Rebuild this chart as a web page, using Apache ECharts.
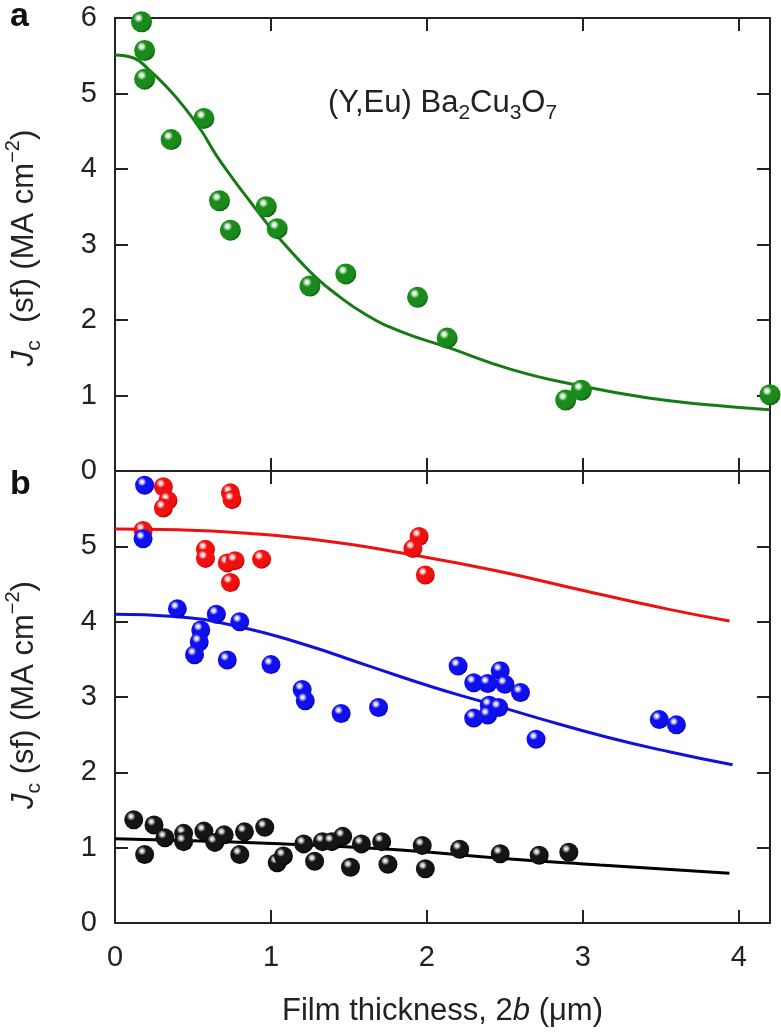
<!DOCTYPE html>
<html>
<head>
<meta charset="utf-8">
<title>Jc vs film thickness</title>
<script src="https://cdn.jsdelivr.net/npm/echarts@6/dist/echarts.min.js"></script>
<style>
  html, body { margin: 0; padding: 0; background: #fff; }
  #chart { width: 781px; height: 1032px; }
</style>
</head>
<body>
<div id="chart"></div>
<script>
// ---- data: [film thickness 2b (um), Jc (MA cm^-2)] ----
const xTicks = [0, 1, 2, 3, 4];

// panel a, (Y,Eu)Ba2Cu3O7
const ptsA = [
  [0.17, 5.95], [0.19, 5.57], [0.19, 5.19], [0.36, 4.39], [0.57, 4.67],
  [0.67, 3.58], [0.74, 3.19], [0.97, 3.50], [1.04, 3.21], [1.25, 2.45],
  [1.48, 2.61], [1.94, 2.30], [2.13, 1.76], [2.89, 0.94], [2.99, 1.07],
  [4.20, 1.01]
];
const fitA = [
  [0, 5.51], [0.12, 5.47], [0.22, 5.31], [0.33, 5.09], [0.44, 4.83],
  [0.55, 4.52], [0.65, 4.18], [0.76, 3.86], [0.87, 3.56], [0.97, 3.29],
  [1.08, 3.02], [1.19, 2.77], [1.29, 2.56], [1.40, 2.37], [1.61, 2.07],
  [1.83, 1.85], [2.13, 1.64], [2.55, 1.34], [2.98, 1.13], [3.41, 0.97],
  [3.84, 0.87], [4.20, 0.81]
];

// panel b
const ptsRed = [
  [0.31, 5.79], [0.34, 5.61], [0.31, 5.51], [0.18, 5.21], [0.74, 5.71],
  [0.75, 5.62], [0.58, 4.96], [0.58, 4.84], [0.72, 4.78], [0.77, 4.81],
  [0.74, 4.52], [0.94, 4.83], [1.95, 5.13], [1.91, 4.97], [1.99, 4.62]
];
const fitRed = [
  [0, 5.23], [0.40, 5.22], [0.80, 5.18], [1.35, 5.07], [1.90, 4.89],
  [2.46, 4.67], [3.01, 4.41], [3.56, 4.16], [3.94, 4.01]
];
const ptsBlue = [
  [0.19, 5.81], [0.18, 5.10], [0.40, 4.17], [0.65, 4.10], [0.80, 4.00],
  [0.55, 3.89], [0.54, 3.73], [0.51, 3.56], [0.72, 3.49], [1.00, 3.43],
  [1.20, 3.10], [1.22, 2.95], [1.45, 2.78], [1.69, 2.86], [2.20, 3.41],
  [2.30, 3.19], [2.39, 3.18], [2.47, 3.35], [2.50, 3.17], [2.60, 3.06],
  [2.40, 2.89], [2.46, 2.86], [2.30, 2.72], [2.39, 2.76], [2.70, 2.44],
  [3.49, 2.70], [3.60, 2.63]
];
const fitBlue = [
  [0, 4.10], [0.38, 4.07], [0.80, 3.93], [1.21, 3.70], [1.63, 3.41],
  [2.04, 3.13], [2.37, 2.93], [2.73, 2.71], [3.15, 2.47], [3.56, 2.27],
  [3.96, 2.10]
];
const ptsBlack = [
  [0.12, 1.37], [0.19, 0.91], [0.25, 1.30], [0.32, 1.13], [0.44, 1.19],
  [0.44, 1.08], [0.57, 1.22], [0.64, 1.07], [0.70, 1.17], [0.80, 0.91],
  [0.83, 1.21], [0.96, 1.27], [1.04, 0.80], [1.08, 0.89], [1.21, 1.05],
  [1.28, 0.82], [1.33, 1.08], [1.39, 1.08], [1.46, 1.15], [1.51, 0.74],
  [1.58, 1.05], [1.71, 1.08], [1.75, 0.78], [1.97, 1.03], [1.99, 0.72],
  [2.21, 0.98], [2.47, 0.92], [2.72, 0.90], [2.91, 0.94]
];
const fitBlack = [
  [0, 1.12], [0.55, 1.09], [1.19, 1.04], [1.83, 0.97], [2.47, 0.86],
  [3.11, 0.77], [3.94, 0.66]
];

const FONT = 'Liberation Sans, Arial, Helvetica, sans-serif';
const INK = '#222';

// 3D-looking ball, bright spot upper-left
function ball(light, mid, dark) {
  return {
    type: 'radial', x: 0.36, y: 0.32, r: 0.72,
    colorStops: [
      { offset: 0, color: '#ffffff' },
      { offset: 0.12, color: light },
      { offset: 0.32, color: mid },
      { offset: 0.8, color: mid },
      { offset: 1, color: dark }
    ]
  };
}

function xAx(grid, pos, labels) {
  return {
    type: 'value', gridIndex: grid, position: pos, min: 0, max: 4.2, interval: 1,
    axisLine: { show: true, onZero: false, lineStyle: { color: INK, width: 2 } },
    axisTick: { show: true, inside: true, length: 13, customValues: xTicks, lineStyle: { color: INK, width: 2 } },
    axisLabel: { show: labels, margin: 20, fontSize: 29, color: INK, fontFamily: FONT, customValues: xTicks },
    splitLine: { show: false }
  };
}
function yAx(grid, pos, labels, hideTop) {
  return {
    type: 'value', gridIndex: grid, position: pos, min: 0, max: 6, interval: 1,
    axisLine: { show: true, onZero: false, lineStyle: { color: INK, width: 2 } },
    axisTick: { show: true, inside: true, length: 13, lineStyle: { color: INK, width: 2 } },
    axisLabel: {
      show: labels, margin: 18, fontSize: 29, color: INK, fontFamily: FONT,
      formatter: v => (hideTop && v === 6 ? '' : String(v))
    },
    splitLine: { show: false }
  };
}

function scatter(name, x, y, data, color, size) {
  return {
    name: name, type: 'scatter', xAxisIndex: x, yAxisIndex: y, data: data,
    symbol: 'circle', symbolSize: size, z: 3,
    itemStyle: { color: color, opacity: 1 }
  };
}
function curve(name, x, y, data, color) {
  return {
    name: name, type: 'line', xAxisIndex: x, yAxisIndex: y, data: data,
    smooth: 0.5, showSymbol: false, z: 2,
    lineStyle: { color: color, width: 3 }
  };
}

const titleRich = {
  j: { fontSize: 31, fontStyle: 'italic', fontFamily: FONT, lineHeight: 42, fill: INK },
  c: { fontSize: 21, fontFamily: FONT, lineHeight: 20, verticalAlign: 'bottom', fill: INK },
  t: { fontSize: 31, fontFamily: FONT, lineHeight: 42, fill: INK },
  s: { fontSize: 20, fontFamily: FONT, lineHeight: 20, verticalAlign: 'top', fill: INK }
};

const chart = echarts.init(document.getElementById('chart'), null, { renderer: 'canvas' });
chart.setOption({
  backgroundColor: '#fff',
  animation: false,
  grid: [
    { left: 115, top: 18, width: 655, height: 453 },
    { left: 115, top: 471, width: 655, height: 452 }
  ],
  xAxis: [
    xAx(0, 'bottom', false),
    xAx(0, 'top', false),
    Object.assign(xAx(1, 'bottom', true), {
      name: 'Film thickness, 2{i|b} (μm)',
      nameLocation: 'middle',
      nameGap: 73,
      nameTextStyle: {
        fontSize: 31, color: INK, fontFamily: FONT,
        rich: { i: { fontSize: 31, fontStyle: 'italic', fontFamily: FONT, color: INK } }
      }
    }),
    xAx(1, 'top', false)
  ],
  yAxis: [
    yAx(0, 'left', true, false),
    yAx(0, 'right', false, false),
    yAx(1, 'left', true, true),
    yAx(1, 'right', false, false)
  ],
  series: [
    curve('fit a', 0, 0, fitA, '#167a16'),
    scatter('(Y,Eu)Ba2Cu3O7', 0, 0, ptsA, ball('#d6f0d6', '#1a8a1a', '#0b5c0b'), 21),
    curve('fit red', 2, 2, fitRed, '#ee1111'),
    curve('fit blue', 2, 2, fitBlue, '#1111dd'),
    curve('fit black', 2, 2, fitBlack, '#000'),
    scatter('red', 2, 2, ptsRed, ball('#ffd6d6', '#f01010', '#b00000'), 19),
    scatter('blue', 2, 2, ptsBlue, ball('#d8d8ff', '#1010ee', '#0000a8'), 19),
    scatter('black', 2, 2, ptsBlack, ball('#d0d0d0', '#151515', '#000'), 19)
  ],
  graphic: [
    { type: 'text', left: 10, top: 0,
      style: { text: 'a', font: 'bold 34px ' + FONT, fill: '#111' } },
    { type: 'text', left: 10, top: 468,
      style: { text: 'b', font: 'bold 34px ' + FONT, fill: '#111' } },
    { type: 'text', x: 328, y: 103,
      style: {
        text: '(Y,Eu) Ba{s|2}Cu{s|3}O{s|7}',
        font: '31px ' + FONT, fill: INK, verticalAlign: 'middle', textVerticalAlign: 'middle',
        rich: { s: { fontSize: 21, fontFamily: FONT, lineHeight: 20, verticalAlign: 'bottom', fill: INK } },
        lineHeight: 42
      } },
    { type: 'text', x: 24, y: 248, rotation: Math.PI / 2,
      style: {
        text: '{j|J}{c|c}{t|  (sf) (MA cm}{s|−2}{t|)}',
        rich: titleRich, fill: INK,
        align: 'center', verticalAlign: 'middle', textAlign: 'center', textVerticalAlign: 'middle'
      } },
    { type: 'text', x: 24, y: 695, rotation: Math.PI / 2,
      style: {
        text: '{j|J}{c|c}{t| (sf) (MA cm}{s|−2}{t|)}',
        rich: titleRich, fill: INK,
        align: 'center', verticalAlign: 'middle', textAlign: 'center', textVerticalAlign: 'middle'
      } }
  ]
});
window.addEventListener('resize', () => chart.resize());
</script>
</body>
</html>
